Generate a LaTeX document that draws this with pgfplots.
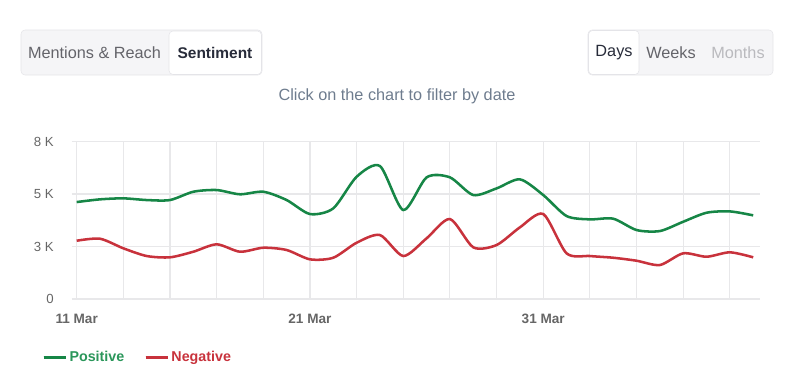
\documentclass[border=0pt]{standalone}
\usepackage{fontspec}
\setmainfont{Liberation Sans}
\usepackage{pgfplots}
\pgfplotsset{compat=1.18}
\definecolor{posgreen}{RGB}{22,134,70}
\definecolor{neggreen}{RGB}{42,150,90}
\definecolor{negred}{RGB}{200,50,60}
\definecolor{gridc}{RGB}{232,232,234}
\definecolor{tickc}{RGB}{102,102,102}
\definecolor{btnbg}{RGB}{245,245,247}
\definecolor{btnborder}{RGB}{228,228,232}
\definecolor{btntext}{RGB}{100,100,106}
\definecolor{btndark}{RGB}{40,44,58}
\definecolor{btnlight}{RGB}{186,186,190}
\definecolor{subc}{RGB}{110,124,142}
\begin{document}
\begin{tikzpicture}
\useasboundingbox (0,0) rectangle (600pt,-286.5pt);
\begin{scope}[x=0.75pt,y=-0.75pt]
  % left button group
  \draw[draw=btnborder, fill=btnbg, rounded corners=3pt] (21,30) rectangle (262,75);
  \draw[draw=btnborder, fill=white, rounded corners=3pt] (169,31) rectangle (261.5,74.5);
  \node[font=\fontsize{12.2pt}{14pt}\selectfont, text=btntext] at (94.5,52.5) {Mentions \& Reach};
  \node[font=\fontsize{11.6pt}{14pt}\selectfont\bfseries, text=btndark] at (215,52.5) {Sentiment};
  % right button group
  \draw[draw=btnborder, fill=btnbg, rounded corners=3pt] (588,30) rectangle (773,75);
  \draw[draw=btnborder, fill=white, rounded corners=3pt] (588.5,30.5) rectangle (639,74.5);
  \node[font=\fontsize{12.2pt}{14pt}\selectfont, text=btndark] at (614,52.5) {Days};
  \node[font=\fontsize{12.2pt}{14pt}\selectfont, text=btntext] at (671,52.5) {Weeks};
  \node[font=\fontsize{12.2pt}{14pt}\selectfont, text=btnlight] at (738,52.5) {Months};
  % subtitle
  \node[font=\fontsize{12.2pt}{14pt}\selectfont, text=subc] at (397,96) {Click on the chart to filter by date};
\end{scope}
\begin{axis}[
  at={(53.775pt,-224.25pt)}, anchor=south west,
  scale only axis, width=516.2pt, height=118.1pt,
  xmin=-0.214, xmax=29.29, ymin=0, ymax=8000,
  axis line style={draw=none},
  tick style={draw=none},
  xtick={0,2,...,28},
  xticklabels={\textbf{11 Mar},,,,,\textbf{21 Mar},,,,,\textbf{31 Mar},,,,},
  ytick={0,2666.667,5333.333,8000},
  yticklabels={0,\mbox{3 K},\mbox{5 K},\mbox{8 K}},
  xmajorgrids, ymajorgrids,
  major grid style={gridc, line width=0.8pt},
  xticklabel style={font=\fontsize{10.2pt}{12pt}\selectfont, text=tickc, yshift=-8pt},
  yticklabel style={font=\fontsize{9.9pt}{11pt}\selectfont, text=tickc, xshift=-10pt},
  legend style={at={(-0.043,-0.37)}, anchor=west, draw=none, fill=none,
    legend columns=2, inner sep=0pt,
    /tikz/every even column/.append style={column sep=13pt},
    font=\fontsize{10.7pt}{12pt}\selectfont\bfseries},
  legend cell align=left,
  legend image code/.code={\draw[#1, line width=1.8pt] (0pt,0pt) -- (14.25pt,0pt);
    \path (0pt,0pt) -- (16.5pt,0pt);},
]
\addplot[posgreen, line width=1.9pt, smooth, tension=0.45] coordinates {
(0,4926) (1,5063) (2,5114) (3,5028) (4,5028) (5,5450) (6,5536) (7,5320) (8,5450) (9,5028)
(10,4317) (11,4606) (12,6211) (13,6755) (14,4520) (15,6180) (16,6180) (17,5282) (18,5620) (19,6079)
(20,5282) (21,4215) (22,4046) (23,4080) (24,3504) (25,3453) (26,3926) (27,4383) (28,4451) (29,4250)
};
\addlegendentry{\textcolor{neggreen}{Positive}}
\addplot[negred, line width=1.9pt, smooth, tension=0.45] coordinates {
(0,2961) (1,3063) (2,2575) (3,2184) (4,2118) (5,2402) (6,2778) (7,2402) (8,2605) (9,2489)
(10,2016) (11,2097) (12,2859) (13,3250) (14,2184) (15,3083) (16,4063) (17,2626) (18,2743) (19,3641)
(20,4317) (21,2321) (22,2184) (23,2097) (24,1945) (25,1727) (26,2321) (27,2148) (28,2372) (29,2118)
};
\addlegendentry{\textcolor{negred}{Negative}}
\end{axis}
\end{tikzpicture}
\end{document}
